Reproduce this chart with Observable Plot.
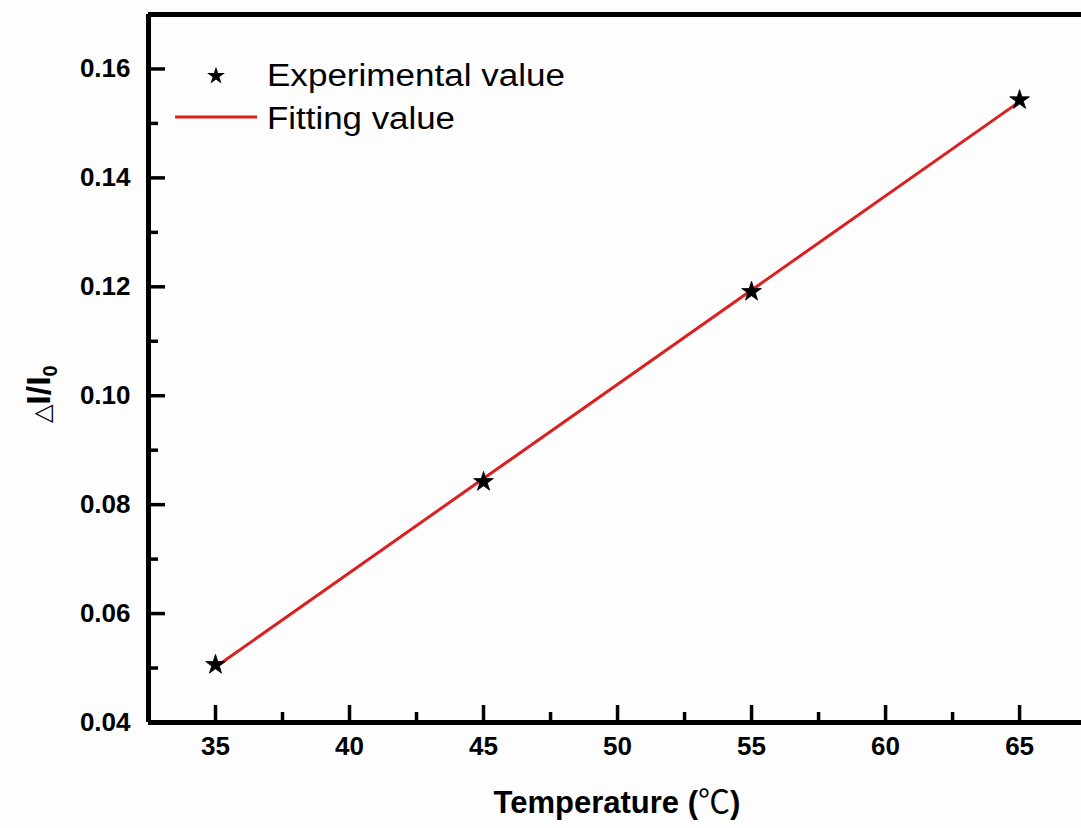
<!DOCTYPE html>
<html>
<head>
<meta charset="utf-8">
<script src="https://cdn.jsdelivr.net/npm/d3@7"></script>
<script src="https://cdn.jsdelivr.net/npm/@observablehq/plot@0.6"></script>
<style>
  html, body { margin: 0; padding: 0; background: #fdfdfd; }
  #chart { position: relative; width: 1081px; height: 828px; overflow: hidden; }
</style>
</head>
<body>
<div id="chart"></div>
<script>
// Data
const temperature = [35, 45, 55, 65];
const experimental = [0.0506, 0.0842, 0.1191, 0.1543];
const fitTemperature = [35, 65];
const fitValue = [0.0502, 0.1540];
const xMajorTicks = [35, 40, 45, 50, 55, 60, 65];
const xMinorTicks = [37.5, 42.5, 47.5, 52.5, 57.5, 62.5];
const yMajorTicks = [0.04, 0.06, 0.08, 0.10, 0.12, 0.14, 0.16];
const yMinorTicks = [0.05, 0.07, 0.09, 0.11, 0.13, 0.15];
const seriesNames = ["Experimental value", "Fitting value"];
const xTitle = "Temperature ";
const xUnit = "℃";

const points = temperature.map((t, i) => ({t, v: experimental[i]}));
const fit = fitTemperature.map((t, i) => ({t, v: fitValue[i]}));

const W = 1081, H = 828;
const mL = 148, mR = 0, mT = 14, mB = 106;
const pw = W - mL - mR, ph = H - mT - mB;
const red = "#dc1f1f";
const FONT = "'Liberation Sans', Arial, sans-serif";

const plot = Plot.plot({
  width: W, height: H,
  marginLeft: mL, marginRight: mR, marginTop: mT, marginBottom: mB,
  x: {domain: [32.5, 67.31]},
  y: {domain: [0.04, 0.17]},
  style: {fontFamily: FONT, background: "transparent", color: "black"},
  marks: [
    // inward ticks
    Plot.tickY(yMajorTicks, {y: d => d, insetRight: pw - 17, strokeWidth: 3.5}),
    Plot.tickY(yMinorTicks, {y: d => d, insetRight: pw - 10, strokeWidth: 3.5}),
    Plot.tickX(xMajorTicks, {x: d => d, insetTop: ph - 17, strokeWidth: 3.5}),
    Plot.tickX(xMinorTicks, {x: d => d, insetTop: ph - 10, strokeWidth: 3.5}),
    Plot.axisY({ticks: yMajorTicks, tickSize: 0, tickPadding: 18, tickFormat: d3.format(".2f"),
      fontSize: 26, fontWeight: "bold", label: null}),
    Plot.axisX({ticks: xMajorTicks, tickSize: 0, tickPadding: 14, tickFormat: d => d,
      fontSize: 26, fontWeight: "bold", label: null}),
    // frame
    Plot.ruleX([32.5], {strokeWidth: 5}),
    Plot.ruleY([0.04], {strokeWidth: 5}),
    Plot.ruleY([0.17], {strokeWidth: 5}),
    // fitting line
    Plot.line(fit, {x: "t", y: "v", stroke: red, strokeWidth: 3}),
    // experimental points
    Plot.dot(points, {x: "t", y: "v", symbol: "star", r: 6.2, fill: "black", stroke: "black", strokeWidth: 0.8})
  ]
});
document.getElementById("chart").appendChild(plot);

const svg = d3.select(plot);
// legend
const lg = svg.append("g").attr("font-family", FONT).attr("text-anchor", "start");
lg.append("path")
  .attr("d", d3.symbol(d3.symbolStar, Math.PI * 5.6 * 5.6)())
  .attr("transform", "translate(216,76)").attr("fill", "black");
lg.append("text").attr("x", 267).attr("y", 86).attr("font-size", 31)
  .attr("textLength", 298).attr("lengthAdjust", "spacingAndGlyphs").text(seriesNames[0]);
lg.append("line").attr("x1", 175).attr("x2", 257).attr("y1", 117).attr("y2", 117)
  .attr("stroke", red).attr("stroke-width", 3);
lg.append("text").attr("x", 267).attr("y", 129).attr("font-size", 31)
  .attr("textLength", 188).attr("lengthAdjust", "spacingAndGlyphs").text(seriesNames[1]);

// x title
const xt = svg.append("text").attr("x", 617).attr("y", 813).attr("text-anchor", "middle")
  .attr("font-family", FONT).attr("font-weight", "bold").attr("font-size", 31);
xt.append("tspan").text(xTitle + "(");
xt.append("tspan").attr("font-family", "'Noto Sans CJK SC', 'DejaVu Sans', sans-serif")
  .attr("font-weight", "normal").attr("font-size", 32).text(xUnit);
xt.append("tspan").text(")");

// y title
const yt = svg.append("text").attr("transform", "translate(50,394) rotate(-90)")
  .attr("text-anchor", "middle")
  .attr("font-family", FONT).attr("font-weight", "bold").attr("font-size", 34);
yt.append("tspan").attr("font-weight", "normal").attr("font-size", 24).text("△");
yt.append("tspan").text("I/I");
yt.append("tspan").attr("font-size", 20).attr("dy", 7).text("0");
</script>
</body>
</html>
